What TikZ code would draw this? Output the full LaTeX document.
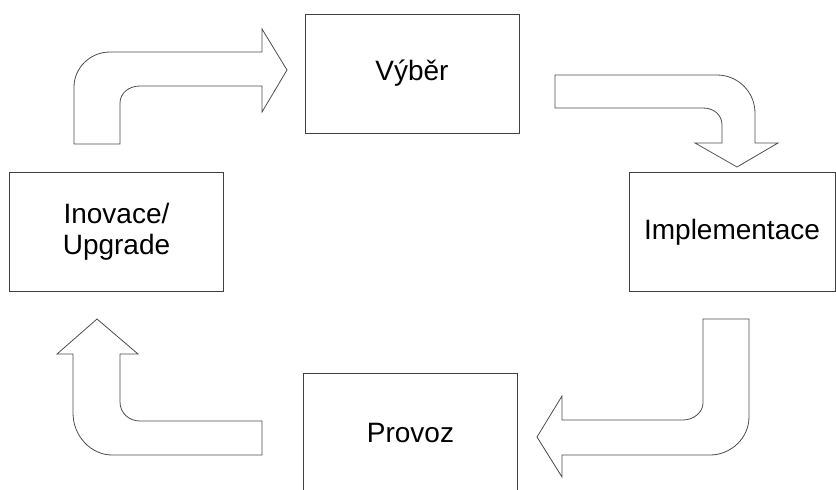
\documentclass[tikz,border=0pt]{standalone}
\usepackage{fontspec}
\setmainfont{Liberation Sans}
\begin{document}
\begin{tikzpicture}[x=1pt,y=-1pt,
    box/.style={draw=black!75,line width=0.9pt,minimum width=214pt,minimum height=119pt,
      inner sep=0pt,align=center,font=\fontsize{28}{31}\selectfont},
    bent/.style={draw=black!70,line width=0.8pt,line join=miter}]
  \useasboundingbox (0,0) rectangle (836,490);
  \draw
    (412,73.5) node[box] (vyber){Výběr}
    (732,232) node[box,minimum width=206pt] (impl){Implementace}
    (410.5,432.5) node[box] (provoz){Provoz}
    (116.5,231.5) node[box] (inov){Inovace/\\Upgrade};
  \begin{scope}[bent]
    % inovace -> vyber
    \draw (74,144) -- (74,87) .. controls (74,68) and (90,52) .. (110,52) -- (262,52)
      -- (262,29) -- (287,70) -- (262,112) -- (262,86) -- (140,86)
      .. controls (129,86) and (120,93) .. (120,103) -- (120,144) -- cycle;
    % vyber -> implementace
    \draw (555,75) -- (717,75) .. controls (738,75) and (755,92) .. (755,113) -- (755,143)
      -- (778,143) -- (737,167) -- (695,143) -- (722,143) -- (722,125)
      .. controls (722,115) and (714,108) .. (703,108) -- (555,108) -- cycle;
    % implementace -> provoz
    \draw (703,319) -- (749,319) -- (749,417) .. controls (749,438) and (731,455) .. (710,455)
      -- (562,455) -- (562,477) -- (537,437) -- (562,396) -- (562,420) -- (683,420)
      .. controls (694,420) and (703,412) .. (703,403) -- cycle;
    % provoz -> inovace
    \draw (262,421) -- (262,455) -- (112,455) .. controls (91,455) and (73,436) .. (73,413)
      -- (73,354) -- (57,354) -- (97,319) -- (138,354) -- (120,354) -- (120,402)
      .. controls (120,413) and (129,421) .. (140,421) -- cycle;
  \end{scope}
\end{tikzpicture}
\end{document}
